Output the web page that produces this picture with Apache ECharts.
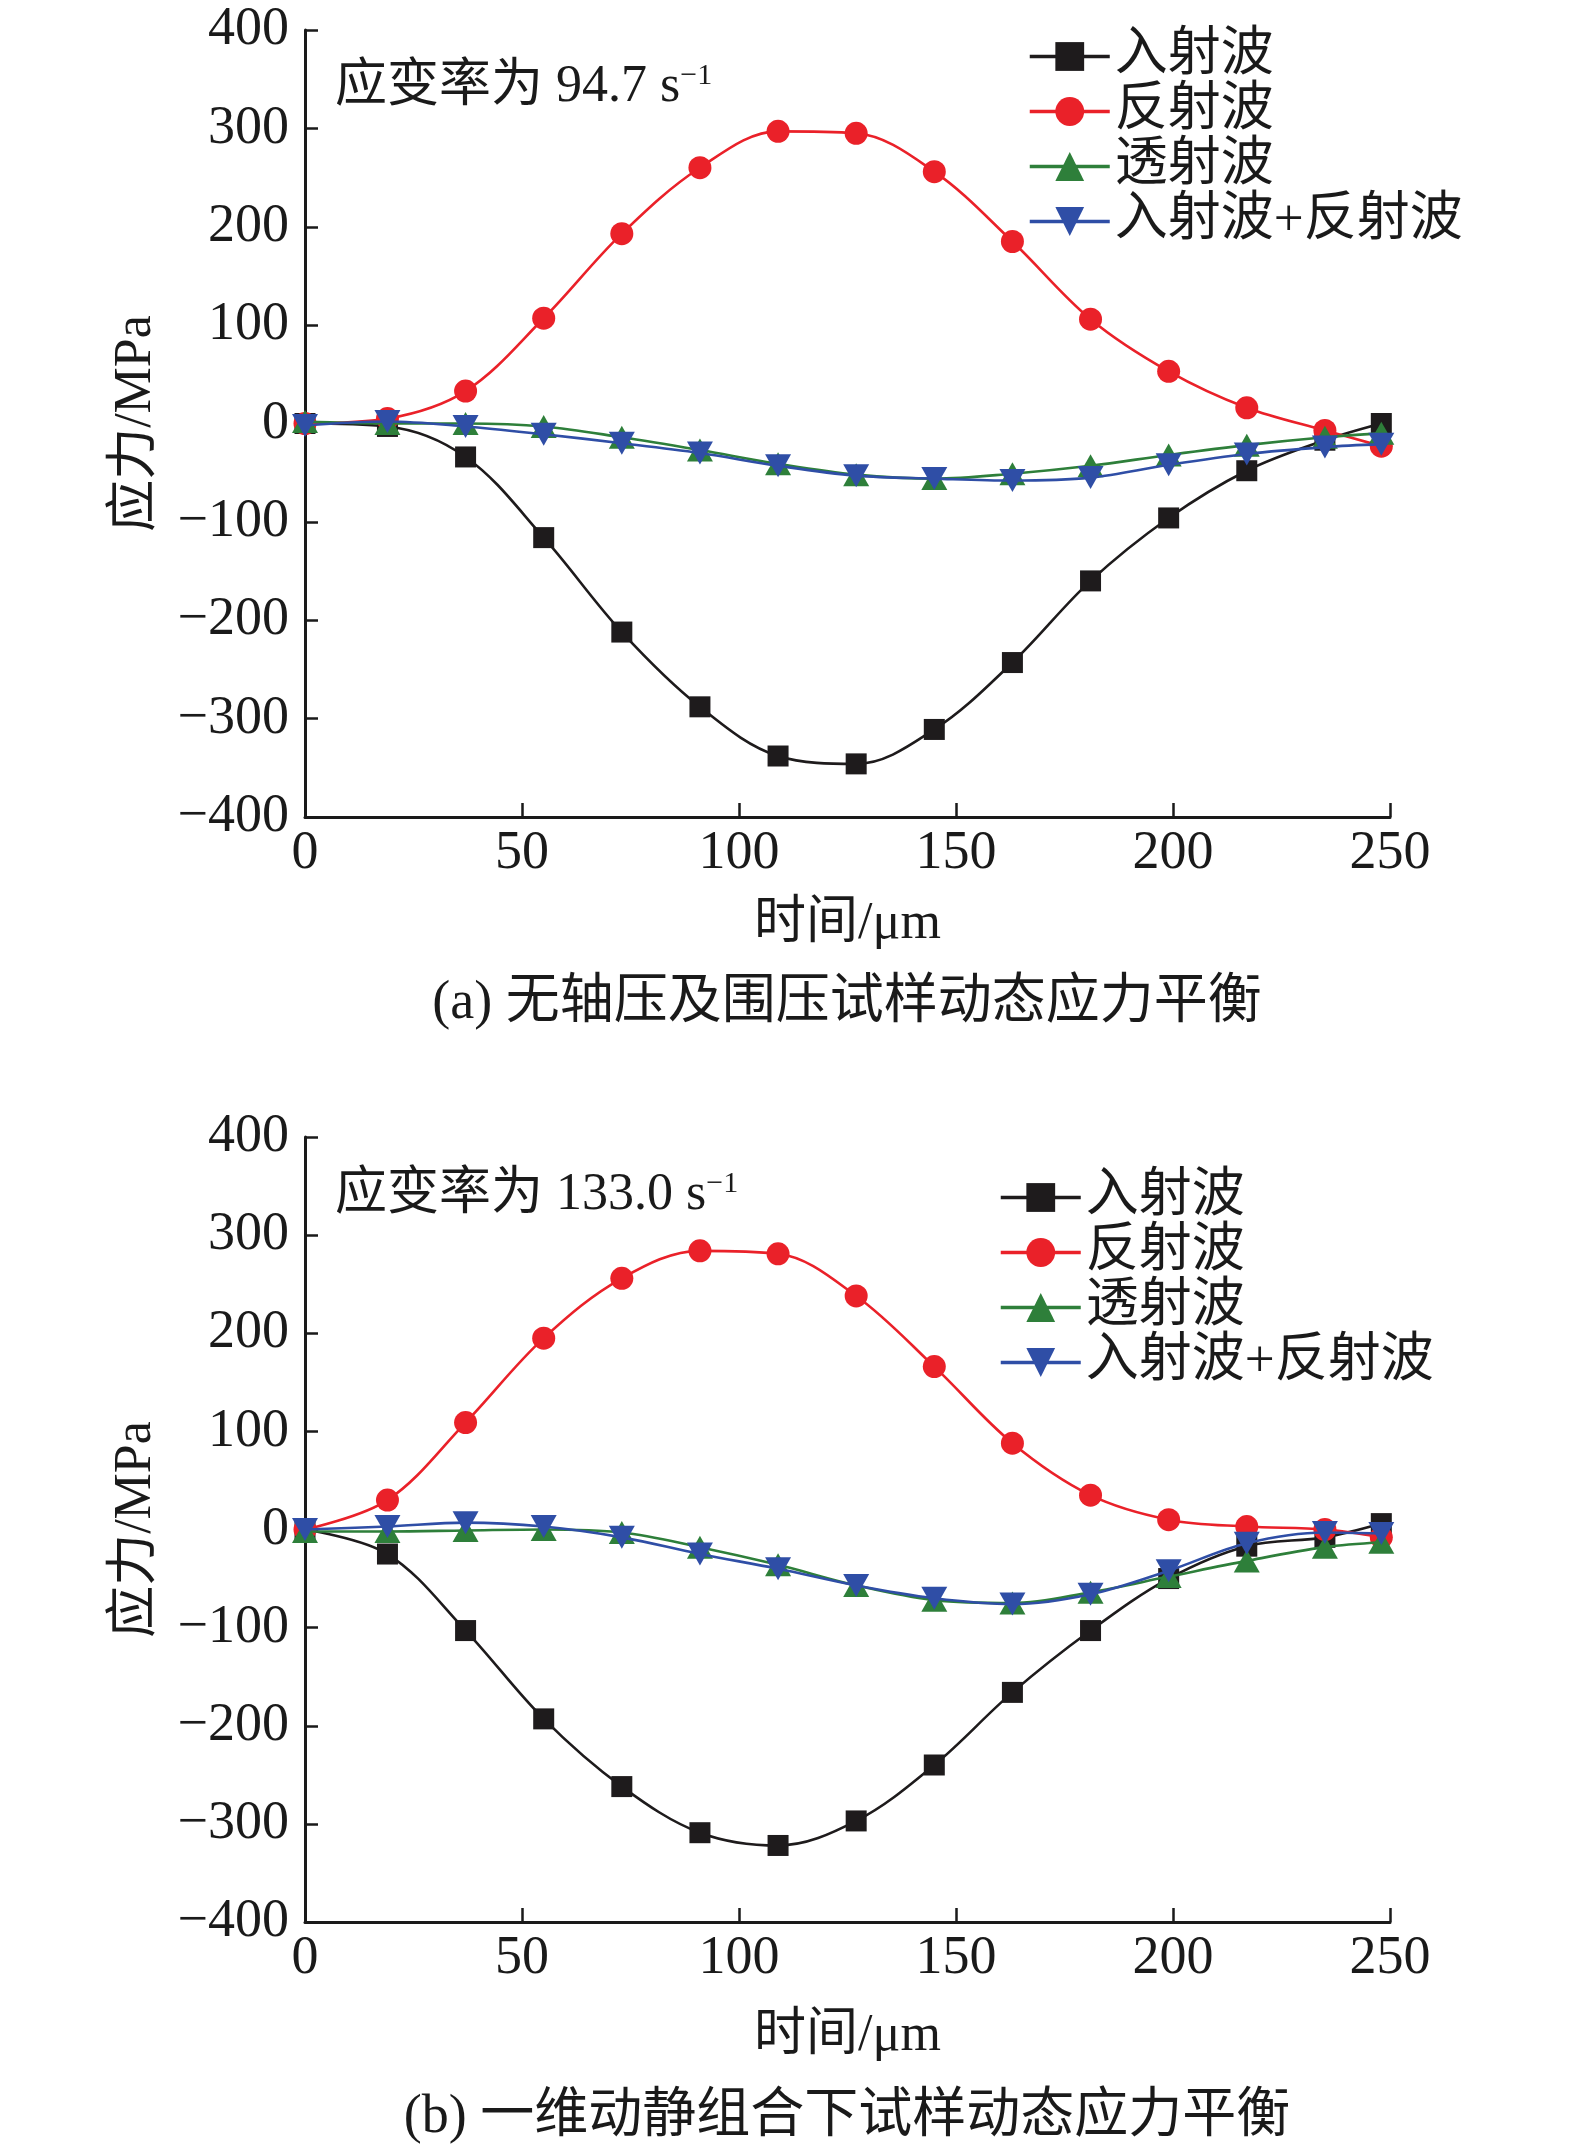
<!DOCTYPE html>
<html>
<head>
<meta charset="utf-8">
<script src="https://cdn.jsdelivr.net/npm/echarts@6/dist/echarts.min.js"></script>
<style>
html,body{margin:0;padding:0;background:#fff;}
#c{width:1575px;height:2148px;}
</style>
</head>
<body>
<div id="c"></div>
<script>
// time points (µs) where markers sit
const times = [0,19,37,55,73,91,109,127,145,163,181,199,217,235,248];
const seriesNames = ['入射波','反射波','透射波','入射波+反射波'];
const yTicks = [-400,-300,-200,-100,0,100,200,300,400];
const xTicks = [0,50,100,150,200,250];

// (a) 无轴压及围压
const incidentA  = [0,-3,-34,-116,-212,-288,-338,-346,-311,-243,-160,-96,-48,-17,0];
const reflectA   = [0,5,33,107,193,260,297,295,256,185,106,53,16,-7,-23];
const transmitA  = [2,0,0,-3,-14,-27,-41,-52,-56,-51,-43,-32,-22,-14,-10];
const sumA       = [-2,2,-3,-11,-20,-30,-43,-53,-56,-58,-55,-42,-31,-24,-21];

// (b) 一维动静组合
const incidentB  = [0,-25,-103,-193,-262,-309,-322,-297,-240,-166,-103,-50,-17,-8,6];
const reflectB   = [0,30,109,195,256,284,281,238,166,88,35,10,3,0,-8];
const transmitB  = [-2,-2,-1,0,-3,-18,-36,-57,-72,-75,-64,-48,-32,-18,-13];
const sumB       = [0,3,7,3,-8,-25,-40,-57,-70,-76,-66,-42,-14,-3,-4];

const rateA = '94.7';
const rateB = '133.0';

const FONT = "'Liberation Serif','Times New Roman','Noto Sans CJK SC',serif";
const colors = ['#1e1b1c','#ea2129','#2e7f3a','#2f4ea6'];
const symbols = ['rect','circle','triangle','path://M0,0 L10,0 L5,9 Z'];
const symSizes = [[21,21],[23,23],[26,23],[26,23]];

function pair(vals){ return times.map((t,i)=>[t, vals[i]]); }
const minus = v => String(v).replace('-', '\u2212');

function axesFor(idx, xGap){
  return {
    x: {
      type:'value', gridIndex:idx, min:0, max:250, interval:50,
      name:'时间/μm', nameLocation:'middle', nameGap:xGap,
      nameTextStyle:{fontFamily:FONT, fontSize:52, color:'#1a1a1a'},
      axisLine:{show:true, onZero:false, lineStyle:{color:'#1a1a1a', width:3}},
      axisTick:{show:true, inside:true, length:14, lineStyle:{color:'#1a1a1a', width:2.5}},
      axisLabel:{fontFamily:FONT, fontSize:54, color:'#1a1a1a', margin:10, formatter:minus},
      splitLine:{show:false}
    },
    y: {
      type:'value', gridIndex:idx, min:-400, max:400, interval:100,
      name:'应力/MPa', nameLocation:'middle', nameGap:143, nameRotate:90,
      nameTextStyle:{fontFamily:FONT, fontSize:52, color:'#1a1a1a'},
      axisLine:{show:true, onZero:false, lineStyle:{color:'#1a1a1a', width:3}},
      axisTick:{show:true, inside:true, length:13, lineStyle:{color:'#1a1a1a', width:2.5}},
      axisLabel:{fontFamily:FONT, fontSize:54, color:'#1a1a1a', margin:16, formatter:minus},
      splitLine:{show:false}
    }
  };
}
const a0 = axesFor(0, 81), a1 = axesFor(1, 88);

function mkSeries(idx, arrs){
  return arrs.map((vals,k)=>({
    name: seriesNames[k], type:'line', xAxisIndex:idx, yAxisIndex:idx,
    data: pair(vals), smooth:0.35,
    symbol: symbols[k], symbolSize: symSizes[k], showAllSymbol:true,
    lineStyle:{color:colors[k], width:2.6},
    itemStyle:{color:colors[k]},
    z: 2+k, animation:false
  }));
}

function legendAt(left, top){
  return {
    orient:'vertical', left:left, top:top, itemGap:2,
    itemWidth:80, itemHeight:36,
    data: seriesNames,
    selectedMode:false,
    lineStyle:{width:3.5},
    textStyle:{fontFamily:FONT, fontSize:53, color:'#1a1a1a', lineHeight:52, padding:[0,0,0,0]}
  };
}

const chart = echarts.init(document.getElementById('c'), null, {renderer:'canvas'});
chart.setOption({
  animation:false,
  backgroundColor:'#fff',
  grid:[
    {left:305, top:30, width:1085, height:787},
    {left:305, top:1137, width:1085, height:785}
  ],
  xAxis:[a0.x, a1.x],
  yAxis:[a0.y, a1.y],
  legend:[legendAt(1023, 25), legendAt(994, 1166)],
  series:[...mkSeries(0,[incidentA,reflectA,transmitA,sumA]), ...mkSeries(1,[incidentB,reflectB,transmitB,sumB])],
  graphic:[
    {type:'text', left:335, top:61, style:{
      text:'{a|应变率为 '+rateA+' s}{s|\u22121}',
      rich:{a:{fontFamily:FONT, fontSize:52, fill:'#1a1a1a', verticalAlign:'bottom'},
            s:{fontFamily:FONT, fontSize:30, fill:'#1a1a1a', verticalAlign:'top', padding:[0,0,22,0]}}
    }},
    {type:'text', left:335, top:1169, style:{
      text:'{a|应变率为 '+rateB+' s}{s|\u22121}',
      rich:{a:{fontFamily:FONT, fontSize:52, fill:'#1a1a1a', verticalAlign:'bottom'},
            s:{fontFamily:FONT, fontSize:30, fill:'#1a1a1a', verticalAlign:'top', padding:[0,0,22,0]}}
    }},
    {type:'text', x:847, y:1004, style:{
      text:'(a) 无轴压及围压试样动态应力平衡', fontFamily:FONT, fontSize:54,
      fill:'#1a1a1a', align:'center', verticalAlign:'middle'}},
    {type:'text', x:847, y:2118, style:{
      text:'(b) 一维动静组合下试样动态应力平衡', fontFamily:FONT, fontSize:54,
      fill:'#1a1a1a', align:'center', verticalAlign:'middle'}}
  ]
});
</script>
</body>
</html>
